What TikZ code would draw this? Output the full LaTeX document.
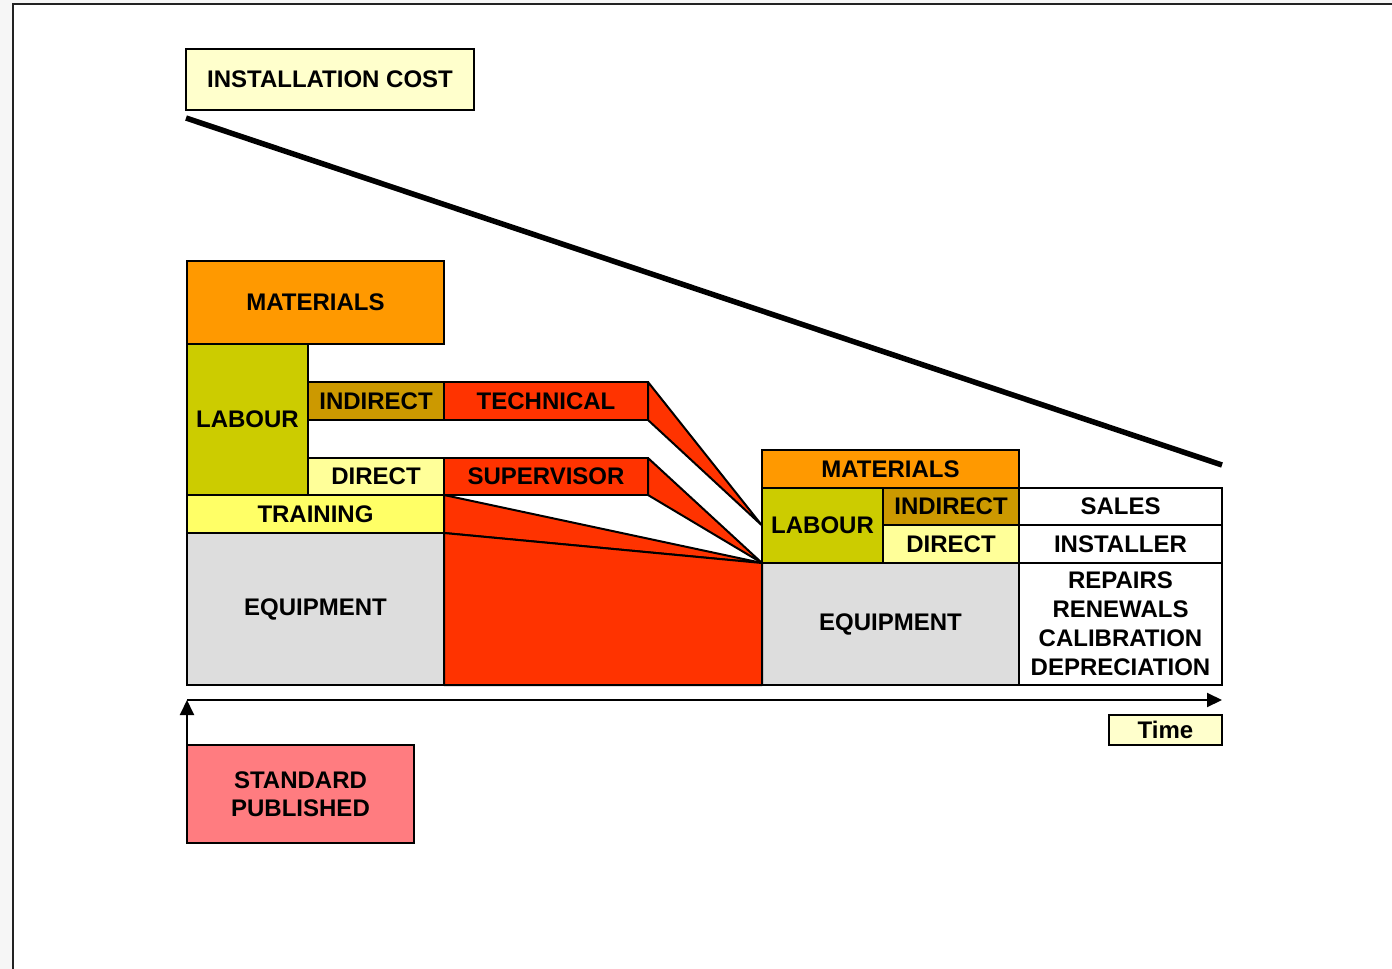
\documentclass[tikz,border=0pt]{standalone}
\usepackage{fontspec}
\setmainfont{Liberation Sans}
\usetikzlibrary{arrows.meta}
\definecolor{pagegray}{HTML}{F6F6F6}
\definecolor{framegray}{HTML}{222222}
\definecolor{cream}{HTML}{FFFFCC}
\definecolor{matorange}{HTML}{FF9900}
\definecolor{labolive}{HTML}{CCCC00}
\definecolor{indbrown}{HTML}{CC9900}
\definecolor{hotred}{HTML}{FF3300}
\definecolor{paleyellow}{HTML}{FFFF99}
\definecolor{trainyellow}{HTML}{FFFF66}
\definecolor{equipgray}{HTML}{DDDDDD}
\definecolor{stdpink}{HTML}{FF7C80}
\newcommand\lbl{\fontsize{24}{29}\selectfont\bfseries}
\begin{document}
\begin{tikzpicture}[x=1pt,y=-1pt,
  box/.style={draw=black, line width=2pt, inner sep=0pt, outer sep=0pt,
    anchor=north west, font=\lbl, align=center},
  wedge/.style={fill=hotred, draw=black, line width=2pt, line join=bevel},
  axis/.style={draw=black, line width=2pt, -{Triangle[length=15pt,width=14pt]}}]
\useasboundingbox (0,0) rectangle (1392,969);
% page and frame
\fill[pagegray] (0,0) rectangle (1392,969);
\fill[white] (12,4) rectangle (1392,969);
\draw[framegray, line width=2pt] (12.5,969) -- (12.5,4) -- (1392,4);

% title and falling cost line
\node[box, fill=cream, minimum width=288pt, minimum height=61pt] (cost) at (186,49) {INSTALLATION COST};
\coordinate (c0) at (186,118);
\coordinate (c1) at (1222,465);
\draw[line width=5.5pt] (c0) -- (c1);

% left stack
\node[box, fill=matorange, minimum width=257pt, minimum height=83pt] (matL) at (187,261) {MATERIALS};
\node[box, fill=labolive, minimum width=121pt, minimum height=151pt] (labL) at (187,344) {LABOUR};
\node[box, fill=indbrown, minimum width=136pt, minimum height=38pt] (indL) at (308,382) {INDIRECT};
\node[box, fill=hotred, minimum width=204pt, minimum height=38pt] (tech) at (444,382) {TECHNICAL};
\node[box, fill=paleyellow, minimum width=136pt, minimum height=37pt] (dirL) at (308,458) {DIRECT};
\node[box, fill=hotred, minimum width=204pt, minimum height=37pt] (sup) at (444,458) {SUPERVISOR};
\node[box, fill=trainyellow, minimum width=257pt, minimum height=38pt] (train) at (187,495) {TRAINING};
\node[box, fill=equipgray, minimum width=257pt, minimum height=152pt] (eqL) at (187,533) {EQUIPMENT};

% right stack
\node[box, fill=matorange, minimum width=257pt, minimum height=38pt] (matR) at (762,450) {MATERIALS};
\node[box, fill=labolive, minimum width=121pt, minimum height=75pt] (labR) at (762,488) {LABOUR};
\node[box, fill=indbrown, minimum width=136pt, minimum height=37pt] (indR) at (883,488) {INDIRECT};
\node[box, fill=paleyellow, minimum width=136pt, minimum height=38pt] (dirR) at (883,525) {DIRECT};
\node[box, fill=white, minimum width=203pt, minimum height=37pt] (sales) at (1019,488) {SALES};
\node[box, fill=white, minimum width=203pt, minimum height=38pt] (inst) at (1019,525) {INSTALLER};
\node[box, fill=equipgray, minimum width=257pt, minimum height=122pt] (eqR) at (762,563) {EQUIPMENT};
\node[box, fill=white, minimum width=203pt, minimum height=122pt] (rep) at (1019,563) {REPAIRS\\RENEWALS\\CALIBRATION\\DEPRECIATION};

% cost flows into the later stage
\filldraw[wedge] (tech.north east) -- (labR.west) -- (tech.south east) -- cycle;
\filldraw[wedge] (sup.north east) -- (eqR.north west) -- (sup.south east) -- cycle;
\filldraw[wedge] (train.north east) -- (eqR.north west) -- (train.south east) -- cycle;
\filldraw[wedge] (train.south east) -- (eqR.north west) -- (eqR.south west) -- (eqL.south east) -- cycle;

% time axis
\node[box, fill=cream, minimum width=113pt, minimum height=30pt] (time) at (1109,715) {Time};
\node[box, fill=stdpink, minimum width=227pt, minimum height=98pt, font=\fontsize{24}{28}\selectfont\bfseries] (std) at (187,745) {STANDARD\\PUBLISHED};
\coordinate (t0) at (187,700);
\coordinate (t1) at (1222,700);
\draw[axis] (t0) -- (t1);
\draw[axis] (std.north west) -- (t0);
\end{tikzpicture}
\end{document}
